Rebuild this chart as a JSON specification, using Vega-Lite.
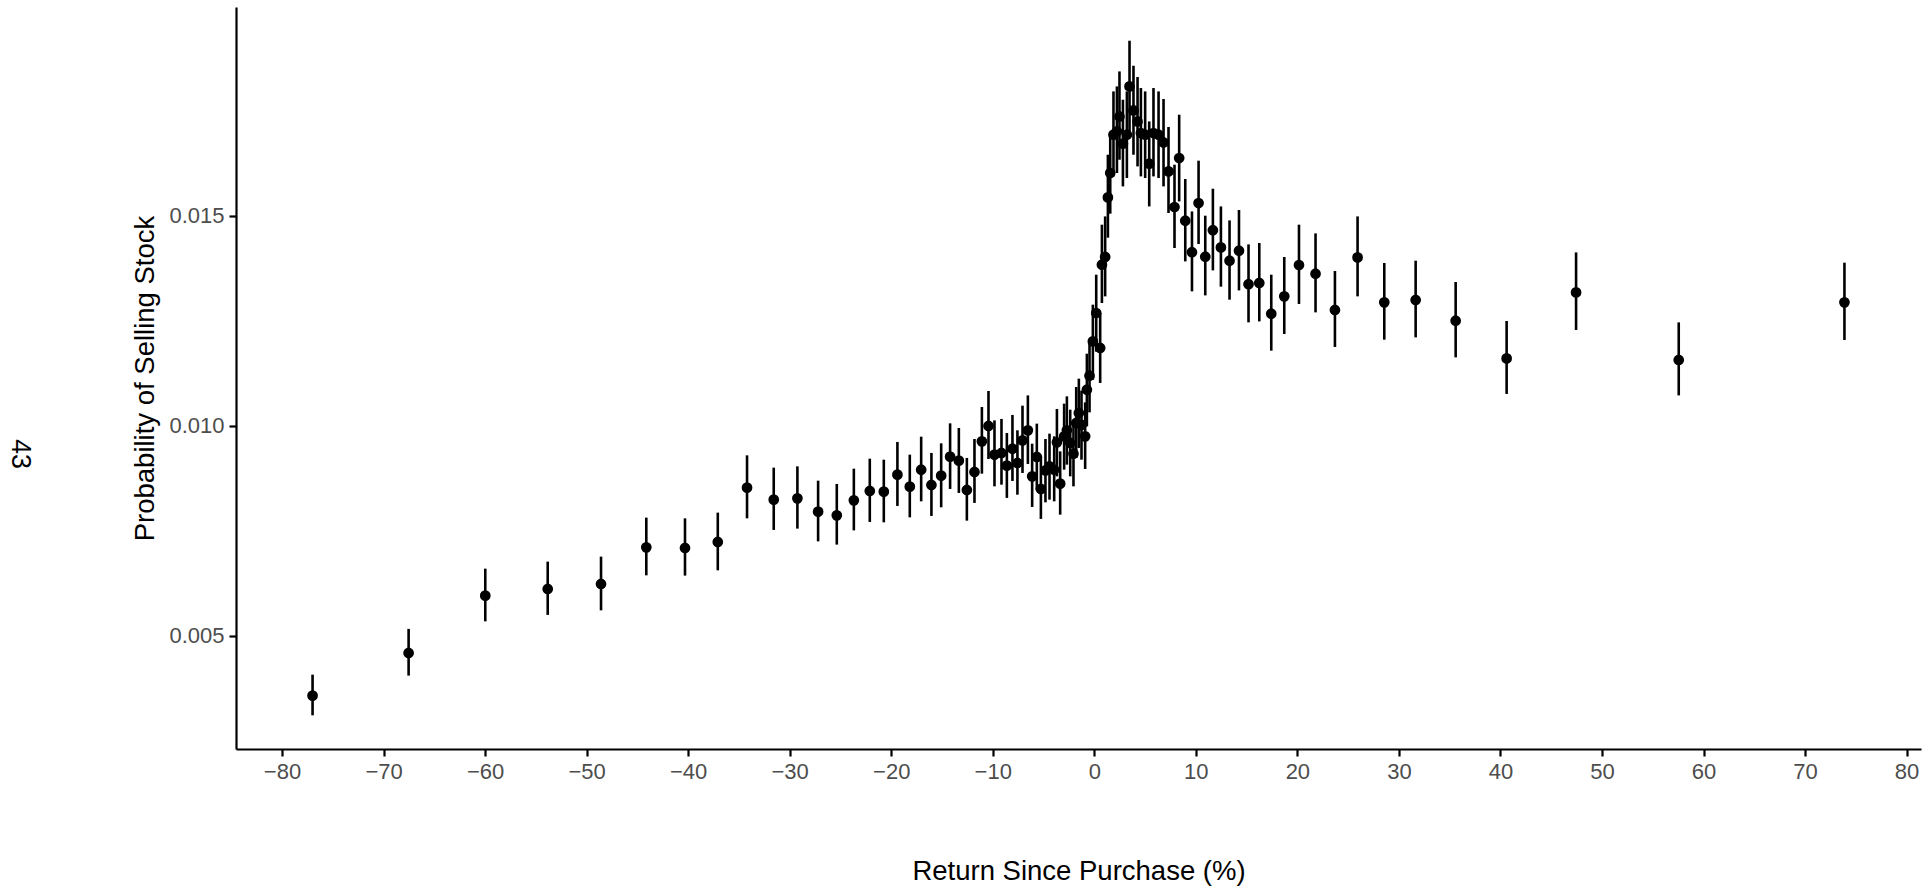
{
  "$schema": "https://vega.github.io/schema/vega-lite/v6.json",
  "width": 1685,
  "height": 742,
  "autosize": "none",
  "padding": {"left": 236, "top": 7, "right": 11, "bottom": 137},
  "background": "white",
  "config": {"view": {"stroke": null}, "font": "Liberation Sans"},
  "title": {"text": "43", "orient": "left", "angle": 90, "fontSize": 27, "fontWeight": "normal", "color": "black", "font": "Liberation Sans", "offset": 72, "dx": 76},
  "data": {"values": [
    {"r": -76.99, "p": 0.003571, "lo": 0.003102, "hi": 0.004071},
    {"r": -67.53, "p": 0.004588, "lo": 0.004048, "hi": 0.005160},
    {"r": -59.98, "p": 0.005952, "lo": 0.005340, "hi": 0.006595},
    {"r": -53.83, "p": 0.006112, "lo": 0.005493, "hi": 0.006762},
    {"r": -48.58, "p": 0.006231, "lo": 0.005602, "hi": 0.006881},
    {"r": -44.12, "p": 0.007102, "lo": 0.006436, "hi": 0.007810},
    {"r": -40.31, "p": 0.007088, "lo": 0.006429, "hi": 0.007793},
    {"r": -37.08, "p": 0.007231, "lo": 0.006555, "hi": 0.007929},
    {"r": -34.20, "p": 0.008524, "lo": 0.007793, "hi": 0.009293},
    {"r": -31.57, "p": 0.008238, "lo": 0.007517, "hi": 0.009000},
    {"r": -29.24, "p": 0.008269, "lo": 0.007548, "hi": 0.009031},
    {"r": -27.20, "p": 0.007952, "lo": 0.007245, "hi": 0.008690},
    {"r": -25.36, "p": 0.007864, "lo": 0.007167, "hi": 0.008612},
    {"r": -23.68, "p": 0.008221, "lo": 0.007507, "hi": 0.008976},
    {"r": -22.11, "p": 0.008445, "lo": 0.007707, "hi": 0.009214},
    {"r": -20.73, "p": 0.008429, "lo": 0.007698, "hi": 0.009190},
    {"r": -19.39, "p": 0.008833, "lo": 0.008088, "hi": 0.009612},
    {"r": -18.17, "p": 0.008548, "lo": 0.007817, "hi": 0.009310},
    {"r": -17.05, "p": 0.008952, "lo": 0.008198, "hi": 0.009738},
    {"r": -16.04, "p": 0.008588, "lo": 0.007850, "hi": 0.009350},
    {"r": -15.08, "p": 0.008810, "lo": 0.008055, "hi": 0.009579},
    {"r": -14.20, "p": 0.009262, "lo": 0.008493, "hi": 0.010055},
    {"r": -13.34, "p": 0.009167, "lo": 0.008398, "hi": 0.009945},
    {"r": -12.55, "p": 0.008469, "lo": 0.007738, "hi": 0.009231},
    {"r": -11.80, "p": 0.008898, "lo": 0.008160, "hi": 0.009683},
    {"r": -11.07, "p": 0.009626, "lo": 0.008857, "hi": 0.010445},
    {"r": -10.42, "p": 0.009993, "lo": 0.009207, "hi": 0.010826},
    {"r": -9.83, "p": 0.009310, "lo": 0.008555, "hi": 0.010126},
    {"r": -9.14, "p": 0.009350, "lo": 0.008595, "hi": 0.010160},
    {"r": -8.61, "p": 0.009048, "lo": 0.008279, "hi": 0.009826},
    {"r": -8.06, "p": 0.009452, "lo": 0.008683, "hi": 0.010255},
    {"r": -7.57, "p": 0.009112, "lo": 0.008357, "hi": 0.009888},
    {"r": -7.07, "p": 0.009650, "lo": 0.008874, "hi": 0.010476},
    {"r": -6.54, "p": 0.009888, "lo": 0.009088, "hi": 0.010721},
    {"r": -6.12, "p": 0.008793, "lo": 0.008064, "hi": 0.009571},
    {"r": -5.66, "p": 0.009255, "lo": 0.008476, "hi": 0.010048},
    {"r": -5.26, "p": 0.008493, "lo": 0.007779, "hi": 0.009269},
    {"r": -4.81, "p": 0.008936, "lo": 0.008174, "hi": 0.009683},
    {"r": -4.41, "p": 0.009031, "lo": 0.008238, "hi": 0.009810},
    {"r": -3.95, "p": 0.008952, "lo": 0.008198, "hi": 0.009745},
    {"r": -3.68, "p": 0.009602, "lo": 0.008793, "hi": 0.010398},
    {"r": -3.36, "p": 0.008619, "lo": 0.007881, "hi": 0.009388},
    {"r": -2.97, "p": 0.009745, "lo": 0.008952, "hi": 0.010524},
    {"r": -2.70, "p": 0.009888, "lo": 0.009071, "hi": 0.010698},
    {"r": -2.37, "p": 0.009588, "lo": 0.008793, "hi": 0.010381},
    {"r": -2.05, "p": 0.009333, "lo": 0.008555, "hi": 0.010126},
    {"r": -1.78, "p": 0.010064, "lo": 0.009231, "hi": 0.010921},
    {"r": -1.52, "p": 0.010302, "lo": 0.009469, "hi": 0.011119},
    {"r": -1.26, "p": 0.010017, "lo": 0.009190, "hi": 0.010833},
    {"r": -0.90, "p": 0.009745, "lo": 0.008969, "hi": 0.010555},
    {"r": -0.73, "p": 0.010857, "lo": 0.009983, "hi": 0.011714},
    {"r": -0.47, "p": 0.011190, "lo": 0.010317, "hi": 0.012064},
    {"r": -0.14, "p": 0.012007, "lo": 0.011095, "hi": 0.012881},
    {"r": 0.19, "p": 0.012683, "lo": 0.011762, "hi": 0.013595},
    {"r": 0.58, "p": 0.011850, "lo": 0.011017, "hi": 0.012683},
    {"r": 0.75, "p": 0.013833, "lo": 0.012921, "hi": 0.014786},
    {"r": 1.07, "p": 0.014017, "lo": 0.013079, "hi": 0.014983},
    {"r": 1.34, "p": 0.015436, "lo": 0.014476, "hi": 0.016452},
    {"r": 1.57, "p": 0.016017, "lo": 0.015048, "hi": 0.017000},
    {"r": 1.89, "p": 0.016929, "lo": 0.015936, "hi": 0.017960},
    {"r": 2.23, "p": 0.017007, "lo": 0.016017, "hi": 0.018079},
    {"r": 2.48, "p": 0.017364, "lo": 0.016333, "hi": 0.018436},
    {"r": 2.82, "p": 0.016714, "lo": 0.015698, "hi": 0.017762},
    {"r": 3.21, "p": 0.016929, "lo": 0.015898, "hi": 0.017960},
    {"r": 3.47, "p": 0.018079, "lo": 0.016969, "hi": 0.019167},
    {"r": 3.86, "p": 0.017507, "lo": 0.016452, "hi": 0.018571},
    {"r": 4.26, "p": 0.017245, "lo": 0.016174, "hi": 0.018302},
    {"r": 4.59, "p": 0.016969, "lo": 0.015936, "hi": 0.018040},
    {"r": 5.01, "p": 0.016929, "lo": 0.015898, "hi": 0.017960},
    {"r": 5.41, "p": 0.016238, "lo": 0.015221, "hi": 0.017245},
    {"r": 5.83, "p": 0.016969, "lo": 0.015936, "hi": 0.018040},
    {"r": 6.33, "p": 0.016929, "lo": 0.015898, "hi": 0.017960},
    {"r": 6.82, "p": 0.016745, "lo": 0.015698, "hi": 0.017779},
    {"r": 7.31, "p": 0.016055, "lo": 0.015064, "hi": 0.017112},
    {"r": 7.90, "p": 0.015207, "lo": 0.014231, "hi": 0.016214},
    {"r": 8.36, "p": 0.016374, "lo": 0.015340, "hi": 0.017405},
    {"r": 8.96, "p": 0.014881, "lo": 0.013912, "hi": 0.015874},
    {"r": 9.62, "p": 0.014131, "lo": 0.013198, "hi": 0.015102},
    {"r": 10.27, "p": 0.015302, "lo": 0.014326, "hi": 0.016310},
    {"r": 10.93, "p": 0.014024, "lo": 0.013102, "hi": 0.015000},
    {"r": 11.68, "p": 0.014655, "lo": 0.013698, "hi": 0.015643},
    {"r": 12.47, "p": 0.014245, "lo": 0.013310, "hi": 0.015221},
    {"r": 13.32, "p": 0.013929, "lo": 0.013000, "hi": 0.014888},
    {"r": 14.25, "p": 0.014167, "lo": 0.013221, "hi": 0.015136},
    {"r": 15.19, "p": 0.013369, "lo": 0.012460, "hi": 0.014317},
    {"r": 16.25, "p": 0.013398, "lo": 0.012483, "hi": 0.014350},
    {"r": 17.43, "p": 0.012667, "lo": 0.011786, "hi": 0.013595},
    {"r": 18.71, "p": 0.013079, "lo": 0.012183, "hi": 0.014017},
    {"r": 20.16, "p": 0.013826, "lo": 0.012898, "hi": 0.014786},
    {"r": 21.79, "p": 0.013619, "lo": 0.012698, "hi": 0.014579},
    {"r": 23.70, "p": 0.012755, "lo": 0.011874, "hi": 0.013683},
    {"r": 25.93, "p": 0.014007, "lo": 0.013079, "hi": 0.014983},
    {"r": 28.56, "p": 0.012936, "lo": 0.012048, "hi": 0.013874},
    {"r": 31.65, "p": 0.012993, "lo": 0.012102, "hi": 0.013929},
    {"r": 35.59, "p": 0.012500, "lo": 0.011626, "hi": 0.013421},
    {"r": 40.61, "p": 0.011602, "lo": 0.010755, "hi": 0.012493},
    {"r": 47.45, "p": 0.013174, "lo": 0.012279, "hi": 0.014126},
    {"r": 57.56, "p": 0.011564, "lo": 0.010721, "hi": 0.012460},
    {"r": 73.88, "p": 0.012936, "lo": 0.012040, "hi": 0.013881}
  ]},
  "encoding": {
    "x": {
      "field": "r", "type": "quantitative",
      "scale": {"domain": [-84.53, 81.42], "nice": false, "zero": false},
      "axis": {
        "title": "Return Since Purchase (%)",
        "values": [-80, -70, -60, -50, -40, -30, -20, -10, 0, 10, 20, 30, 40, 50, 60, 70, 80],
        "format": "d",
        "grid": false,
        "domainColor": "black", "domainWidth": 2.2,
        "tickColor": "black", "tickWidth": 2.2, "tickSize": 7,
        "labelFontSize": 22, "labelColor": "#4D4D4D", "labelPadding": 5, "labelFont": "Liberation Sans",
        "titleFontSize": 27.5, "titleColor": "black", "titleFontWeight": "normal", "titleFont": "Liberation Sans", "titlePadding": 75
      }
    }
  },
  "layer": [
    {
      "mark": {"type": "rule", "color": "black", "strokeWidth": 2.6},
      "encoding": {
        "y": {"field": "lo", "type": "quantitative"},
        "y2": {"field": "hi"}
      }
    },
    {
      "mark": {"type": "point", "filled": true, "color": "black", "opacity": 1, "size": 115},
      "encoding": {
        "y": {
          "field": "p", "type": "quantitative",
          "scale": {"domain": [0.0023, 0.01997], "nice": false, "zero": false},
          "axis": {
            "title": "Probability of Selling Stock",
            "values": [0.005, 0.010, 0.015],
            "format": ".3f",
            "grid": false,
            "domainColor": "black", "domainWidth": 2.2,
            "tickColor": "black", "tickWidth": 2.2, "tickSize": 7,
            "labelFontSize": 22, "labelColor": "#4D4D4D", "labelPadding": 5, "labelFont": "Liberation Sans",
            "titleFontSize": 27.5, "titleColor": "black", "titleFontWeight": "normal", "titleFont": "Liberation Sans", "titlePadding": 9
          }
        }
      }
    }
  ]
}
